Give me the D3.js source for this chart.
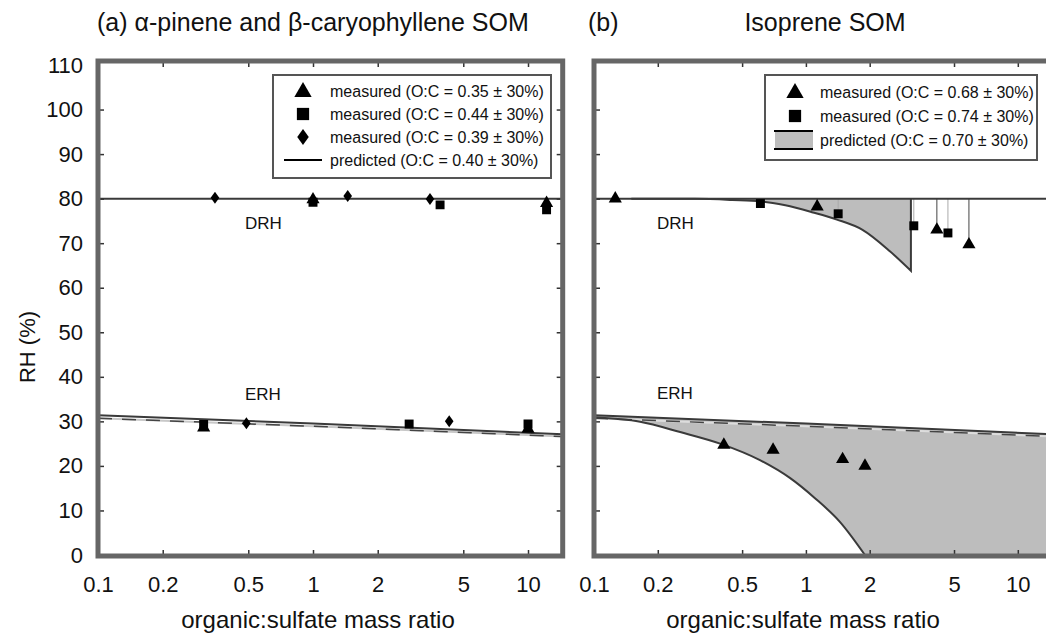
<!DOCTYPE html>
<html><head><meta charset="utf-8">
<script src="https://cdn.jsdelivr.net/npm/d3@7"></script>
<style>
body{margin:0;background:#fff;}
text{font-family:"Liberation Sans",Arial,Helvetica,sans-serif;fill:#111;}
</style></head>
<body><svg id="c" width="1046" height="636"></svg>
<script>
// ---------- data ----------
const xTicks = [0.1, 0.2, 0.5, 1, 2, 5, 10];
const yTicks = [0, 10, 20, 30, 40, 50, 60, 70, 80, 90, 100, 110];

// panel (a) measured
const aTriX = [1.0, 12.2, 0.31, 10.0];
const aTriY = [79.8, 79.0, 28.6, 28.3];
const aSqX = [1.0, 3.9, 12.2, 0.31, 2.8, 10.0];
const aSqY = [79.2, 78.6, 77.5, 29.3, 29.4, 29.4];
const aDiaX = [0.35, 1.45, 3.5, 0.49, 4.3];
const aDiaY = [80.2, 80.6, 79.9, 29.6, 30.0];
// panel (a) predicted
const drhLineX = [0.1, 14.5];
const drhLineY = [80, 80];
const erhSolidX = [0.1, 1, 14.5];
const erhSolidY = [31.4, 29.5, 27.1];
const erhDashX = [0.1, 1, 14.5];
const erhDashY = [30.7, 28.9, 26.6];

// panel (b) measured
const bDrhTriX = [0.126, 1.13, 4.15, 5.88];
const bDrhTriY = [80.0, 78.2, 73.0, 69.7];
const bDrhSqX = [0.61, 1.42, 3.23, 4.68];
const bDrhSqY = [78.9, 76.6, 73.9, 72.3];
const bErhTriX = [0.41, 0.70, 1.49, 1.90];
const bErhTriY = [24.7, 23.6, 21.5, 20.0];
// panel (b) predicted lower bounds
const bDrhLowX = [0.15, 0.3, 0.45, 0.61, 0.8, 1.08, 1.4, 1.85, 2.49, 3.13];
const bDrhLowY = [80, 79.95, 79.7, 79.4, 78.5, 76.9, 75.3, 73.0, 68.2, 63.8];
const bErhLowX = [0.1, 0.165, 0.255, 0.40, 0.607, 0.84, 1.10, 1.45, 1.90];
const bErhLowY = [30.9, 29.9, 27.6, 24.9, 21.3, 17.3, 12.8, 7.4, 0];

const legendA = ["measured (O:C = 0.35 ± 30%)", "measured (O:C = 0.44 ± 30%)", "measured (O:C = 0.39 ± 30%)", "predicted (O:C = 0.40 ± 30%)"];
const legendB = ["measured (O:C = 0.68 ± 30%)", "measured (O:C = 0.74 ± 30%)", "predicted (O:C = 0.70 ± 30%)"];

// ---------- drawing ----------
const svg = d3.select("#c");
const y = d3.scaleLinear().domain([0, 110]).range([555, 65]);
const xA = d3.scaleLog().domain([0.1, 14.5]).range([98, 562.7]);
const xB = d3.scaleLog().domain([0.1, 14.5]).range([594, 1052]);
const FRAME_TOP = 61, FRAME_BOT = 556;
const LINE = "#3a3a3a", FILL = "#bdbdbd", FRAMEC = "#666";
const FONT = '"Liberation Sans",Arial,sans-serif';

const zip = (xs, ys) => xs.map((v, i) => [v, ys[i]]);
const tri = d3.symbol().type(d3.symbolTriangle);
const sq = d3.symbol().type(d3.symbolSquare);
function diamond(s) { return `M0,${-s}L${s*0.72},0L0,${s}L${-s*0.72},0Z`; }

function panel(id, x) {
  const g = svg.append("g");
  const [r0, r1] = x.range();
  g.append("clipPath").attr("id", "clip" + id).append("rect")
    .attr("x", r0).attr("y", FRAME_TOP).attr("width", r1 - r0).attr("height", FRAME_BOT - FRAME_TOP);
  const data = g.append("g").attr("clip-path", `url(#clip${id})`);
  const ax = g.append("g").attr("transform", `translate(0,${y(0)})`)
    .call(d3.axisBottom(x).tickValues(xTicks).tickFormat(d3.format("")).tickSizeInner(-5).tickSizeOuter(0).tickPadding(21));
  ax.select(".domain").remove();
  ax.selectAll("line").attr("stroke", "#333").attr("stroke-width", 1.5);
  ax.selectAll("text").attr("font-size", 22).style("font-family", FONT).attr("fill", "#111");
  const axT = g.append("g").attr("transform", `translate(0,${FRAME_TOP})`)
    .call(d3.axisTop(x).tickValues(xTicks.slice(1)).tickFormat("").tickSizeInner(-6).tickSizeOuter(0));
  axT.select(".domain").remove();
  axT.selectAll("line").attr("stroke", "#333").attr("stroke-width", 1.5);
  const ayL = g.append("g").attr("transform", `translate(${r0},0)`)
    .call(d3.axisLeft(y).tickValues(yTicks.slice(1, -1)).tickFormat("").tickSizeInner(-6).tickSizeOuter(0));
  ayL.select(".domain").remove();
  ayL.selectAll("line").attr("stroke", "#333").attr("stroke-width", 1.5);
  const ayR = g.append("g").attr("transform", `translate(${r1},0)`)
    .call(d3.axisRight(y).tickValues(yTicks.slice(1, -1)).tickFormat("").tickSizeInner(-6).tickSizeOuter(0));
  ayR.select(".domain").remove();
  ayR.selectAll("line").attr("stroke", "#333").attr("stroke-width", 1.5);
  return {g, data};
}

// ===== panel (a) =====
const A = panel("a", xA);
{
  const line = d3.line().x(d => xA(d[0])).y(d => y(d[1]));
  A.data.append("path").attr("d", line(zip(erhDashX, erhDashY))).attr("fill", "none").attr("stroke", "#c8c8c8").attr("stroke-width", 2);
  A.data.append("path").attr("d", line(zip(erhDashX, erhDashY))).attr("fill", "none").attr("stroke", "#444").attr("stroke-width", 1.5).attr("stroke-dasharray", "14,10");
  A.data.append("path").attr("d", line(zip(erhSolidX, erhSolidY))).attr("fill", "none").attr("stroke", LINE).attr("stroke-width", 2);
  A.data.append("path").attr("d", line(zip(drhLineX, drhLineY))).attr("fill", "none").attr("stroke", LINE).attr("stroke-width", 2);
  zip(aSqX, aSqY).forEach(p => A.data.append("path").attr("d", sq.size(80)()).attr("transform", `translate(${xA(p[0])},${y(p[1])})`).attr("fill", "#000"));
  zip(aTriX, aTriY).forEach(p => A.data.append("path").attr("d", tri.size(75)()).attr("transform", `translate(${xA(p[0])},${y(p[1])})`).attr("fill", "#000"));
  zip(aDiaX, aDiaY).forEach(p => A.data.append("path").attr("d", diamond(6)).attr("transform", `translate(${xA(p[0])},${y(p[1])})`).attr("fill", "#000"));
  A.g.append("text").attr("x", 245).attr("y", 229).attr("font-size", 17).text("DRH");
  A.g.append("text").attr("x", 245).attr("y", 400).attr("font-size", 17).text("ERH");
  const L = A.g.append("g");
  L.append("rect").attr("x", 273).attr("y", 75).attr("width", 278).attr("height", 103).attr("fill", "#fff").attr("stroke", "#555").attr("stroke-width", 2);
  const ly = [91, 114, 137, 160];
  L.append("path").attr("d", tri.size(130)()).attr("transform", `translate(303,${ly[0]+1})`).attr("fill", "#000");
  L.append("path").attr("d", sq.size(150)()).attr("transform", `translate(303,${ly[1]})`).attr("fill", "#000");
  L.append("path").attr("d", diamond(8)).attr("transform", `translate(303,${ly[2]})`).attr("fill", "#000");
  L.append("line").attr("x1", 284).attr("x2", 322).attr("y1", ly[3]).attr("y2", ly[3]).attr("stroke", "#000").attr("stroke-width", 2);
  legendA.forEach((t, i) => L.append("text").attr("x", 330).attr("y", ly[i] + 5.5).attr("font-size", 16).text(t));
  A.g.append("rect").attr("x", xA.range()[0]).attr("y", FRAME_TOP).attr("width", xA.range()[1] - xA.range()[0]).attr("height", FRAME_BOT - FRAME_TOP)
    .attr("fill", "none").attr("stroke", FRAMEC).attr("stroke-width", 5);
}

// ===== panel (b) =====
const B = panel("b", xB);
{
  const line = d3.line().x(d => xB(d[0])).y(d => y(d[1]));
  const smooth = d3.line().x(d => xB(d[0])).y(d => y(d[1])).curve(d3.curveMonotoneX);
  const upperE = zip(erhSolidX, erhSolidY);
  const lowE = zip(bErhLowX, bErhLowY);
  const lowD = zip(bDrhLowX, bDrhLowY);
  const lowPath = smooth(lowE);
  const xEnd = xB.domain()[1];
  B.data.append("path")
    .attr("d", lowPath + `L${xB(xEnd)},${y(0)}` + line(upperE.slice().reverse()).replace(/^M/, "L") + "Z")
    .attr("fill", FILL).attr("stroke", "none");
  const lastD = bDrhLowX[bDrhLowX.length - 1];
  B.data.append("path")
    .attr("d", smooth(lowD) + `L${xB(lastD)},${y(80)}L${xB(bDrhLowX[0])},${y(80)}Z`)
    .attr("fill", FILL).attr("stroke", "none");
  zip(bDrhSqX, bDrhSqY).forEach(p => B.data.append("line").attr("x1", xB(p[0])).attr("x2", xB(p[0])).attr("y1", y(80)).attr("y2", y(p[1])).attr("stroke", "#aaa").attr("stroke-width", 1));
  zip(bDrhTriX, bDrhTriY).slice(1).forEach(p => B.data.append("line").attr("x1", xB(p[0])).attr("x2", xB(p[0])).attr("y1", y(80)).attr("y2", y(p[1])).attr("stroke", "#444").attr("stroke-width", 1));
  B.data.append("path").attr("d", line(zip(erhDashX, erhDashY))).attr("fill", "none").attr("stroke", "#ddd").attr("stroke-width", 2);
  B.data.append("path").attr("d", line(zip(erhDashX, erhDashY))).attr("fill", "none").attr("stroke", "#444").attr("stroke-width", 1.5).attr("stroke-dasharray", "14,10");
  B.data.append("path").attr("d", line(upperE)).attr("fill", "none").attr("stroke", LINE).attr("stroke-width", 2);
  B.data.append("path").attr("d", lowPath).attr("fill", "none").attr("stroke", LINE).attr("stroke-width", 2);
  B.data.append("path").attr("d", line(zip(drhLineX, drhLineY))).attr("fill", "none").attr("stroke", LINE).attr("stroke-width", 2);
  B.data.append("path").attr("d", smooth(lowD) + `L${xB(lastD)},${y(80)}`).attr("fill", "none").attr("stroke", LINE).attr("stroke-width", 2);
  zip(bDrhSqX, bDrhSqY).forEach(p => B.data.append("path").attr("d", sq.size(80)()).attr("transform", `translate(${xB(p[0])},${y(p[1])})`).attr("fill", "#000"));
  zip(bDrhTriX, bDrhTriY).concat(zip(bErhTriX, bErhTriY)).forEach(p => B.data.append("path").attr("d", tri.size(75)()).attr("transform", `translate(${xB(p[0])},${y(p[1])})`).attr("fill", "#000"));
  B.g.append("text").attr("x", 657).attr("y", 229).attr("font-size", 17).text("DRH");
  B.g.append("text").attr("x", 657).attr("y", 399).attr("font-size", 17).text("ERH");
  const L = B.g.append("g");
  L.append("rect").attr("x", 765).attr("y", 75).attr("width", 272).attr("height", 85).attr("fill", "#fff").attr("stroke", "#555").attr("stroke-width", 2);
  const ly = [92, 116, 140];
  L.append("path").attr("d", tri.size(130)()).attr("transform", `translate(795,${ly[0]+1})`).attr("fill", "#000");
  L.append("path").attr("d", sq.size(150)()).attr("transform", `translate(795,${ly[1]})`).attr("fill", "#000");
  L.append("rect").attr("x", 775).attr("y", ly[2] - 9).attr("width", 38).attr("height", 18).attr("fill", FILL);
  L.append("line").attr("x1", 774).attr("x2", 813).attr("y1", ly[2] - 9).attr("y2", ly[2] - 9).attr("stroke", "#000").attr("stroke-width", 2);
  L.append("line").attr("x1", 774).attr("x2", 813).attr("y1", ly[2] + 9).attr("y2", ly[2] + 9).attr("stroke", "#000").attr("stroke-width", 2);
  legendB.forEach((t, i) => L.append("text").attr("x", 820).attr("y", ly[i] + 5.5).attr("font-size", 16).text(t));
  B.g.append("rect").attr("x", xB.range()[0]).attr("y", FRAME_TOP).attr("width", xB.range()[1] - xB.range()[0]).attr("height", FRAME_BOT - FRAME_TOP)
    .attr("fill", "none").attr("stroke", FRAMEC).attr("stroke-width", 5);
}

// y tick labels
const yax = svg.append("g").attr("transform", `translate(${xA.range()[0]},0)`)
  .call(d3.axisLeft(y).tickValues(yTicks).tickSize(0).tickPadding(15));
yax.select(".domain").remove();
yax.selectAll("text").attr("font-size", 22).style("font-family", FONT).attr("fill", "#111");

// titles
svg.append("text").attr("x", 97).attr("y", 31).attr("font-size", 25).text("(a) α-pinene and β-caryophyllene SOM");
svg.append("text").attr("x", 588).attr("y", 31).attr("font-size", 25).text("(b)");
svg.append("text").attr("x", 825).attr("y", 31).attr("font-size", 25).attr("text-anchor", "middle").text("Isoprene SOM");
svg.append("text").attr("x", 318).attr("y", 628).attr("font-size", 24).attr("text-anchor", "middle").text("organic:sulfate mass ratio");
svg.append("text").attr("x", 803).attr("y", 628).attr("font-size", 24).attr("text-anchor", "middle").text("organic:sulfate mass ratio");
svg.append("text").attr("transform", "translate(35,347) rotate(-90)").attr("font-size", 22).attr("text-anchor", "middle").text("RH (%)");
</script></body></html>
